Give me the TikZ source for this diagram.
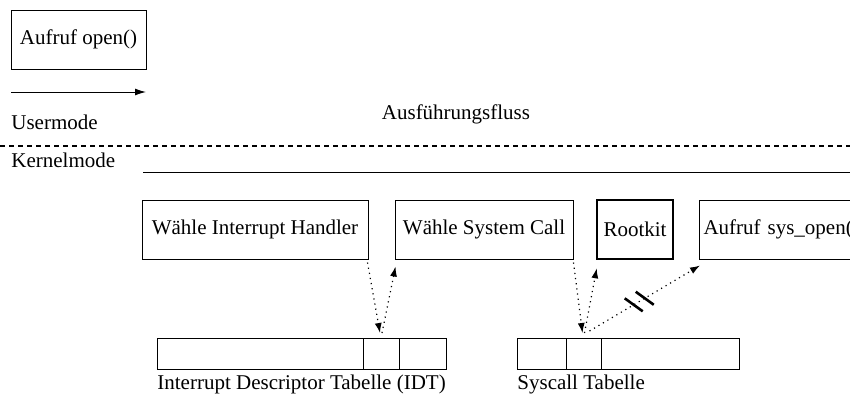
\documentclass[tikz,border=0pt]{standalone}
\usepackage{fontspec}
\setmainfont{Liberation Serif}
\usepackage{tikz}
\usetikzlibrary{positioning, calc, arrows.meta}

\tikzset{
    box/.style={draw, line width=0.5pt, minimum height=29.5pt, inner sep=2pt},
    cell/.style={draw, line width=0.5pt, minimum height=15.5pt, inner sep=0pt, outer sep=0pt},
    lbl/.style={inner sep=0pt},
    flow/.style={dotted, line width=0.6pt, -{Latex[length=5pt, width=3.5pt]}},
    cutmark/.style={line width=1.3pt}
}

\begin{document}
\begin{tikzpicture}[x=0.5pt, y=-0.5pt, font=\fontsize{10.5pt}{12pt}\selectfont]
        \useasboundingbox (0,0) rectangle (850,398);
        \clip (0,0) rectangle (850,398);

        % usermode
        \node [box, minimum width=67.5pt] (open) at (78.5,39.5) {Aufruf open()};
        \coordinate (fa) at (11,92);
        \coordinate (fb) at (146,92);
        \draw [-{Latex[length=5.5pt, width=3.5pt]}, line width=0.5pt] (fa) -- (fb);

        \node [lbl, anchor=base west] (um) at (11,129.5) {Usermode};
        \node [lbl, anchor=base] (fluss) at (456,119) {Ausführungsfluss};

        \draw [line width=1.3pt, dash pattern=on 2.5pt off 2pt] (0,146) -- (850,146);

        % kernelmode
        \node [lbl, anchor=base west] (km) at (11,167) {Kernelmode};
        \draw [line width=0.5pt] (143,172) -- (850,172);

        \node [box, minimum width=113pt] (ih) at (255,229.5) {Wähle Interrupt Handler};
        \node [box, minimum width=89pt] (sc) at (484,229.5) {Wähle System Call};
        \node [box, minimum width=38pt, line width=1.3pt] (rk) at (635,229.5) {Rootkit};
        \node [box, anchor=west, inner xsep=2pt, text width=79pt, align=left] (sys) at (699,229.5) {Aufruf sys\_open(};

        % tabellen
        \node [cell, minimum width=103pt] (idta) at (260,353.5) {};
        \node [cell, minimum width=18pt, right=0pt of idta] (idtb) {};
        \node [cell, minimum width=23.5pt, right=0pt of idtb] (idtc) {};
        \node [lbl, anchor=base west] (idtl) at ([yshift=-10pt]idta.south west) {Interrupt Descriptor Tabelle (IDT)};

        \node [cell, minimum width=24.5pt] (sca) at (541.5,353.5) {};
        \node [cell, minimum width=17.5pt, right=0pt of sca] (scb) {};
        \node [cell, minimum width=69pt, right=0pt of scb] (scc) {};
        \node [lbl, anchor=base west] (scl) at ([yshift=-10pt]sca.south west) {Syscall Tabelle};

        % pfeile
        \draw [flow] ([xshift=-0.5pt, yshift=-1.5pt]ih.south east) -- ([xshift=-0.5pt, yshift=2.5pt]idtb.north);
        \draw [flow] ([xshift=0.5pt, yshift=2.5pt]idtb.north) -- ([xshift=0.5pt, yshift=-3.5pt]sc.south west);

        \draw [flow] ([yshift=-1.5pt]sc.south east) -- ([xshift=-0.5pt, yshift=2.5pt]scb.north);
        \draw [flow] ([xshift=0.5pt, yshift=2.5pt]scb.north) -- ([xshift=0.5pt, yshift=-4pt]rk.south west);

        \coordinate (st) at ([xshift=3pt, yshift=3.5pt]scb.north);
        \coordinate (en) at ([xshift=0.5pt, yshift=-3pt]sys.south west);
        \draw [flow] (st) -- (en);

        \coordinate (cutA) at ($(st)!0.4!(en)$);
        \coordinate (cutB) at ($(st)!0.5!(en)$);
        \draw [cutmark] ([shift={(-9,-6.5)}]cutA) -- ([shift={(9,6.5)}]cutA);
        \draw [cutmark] ([shift={(-9,-6.5)}]cutB) -- ([shift={(9,6.5)}]cutB);
    \end{tikzpicture}
\end{document}
